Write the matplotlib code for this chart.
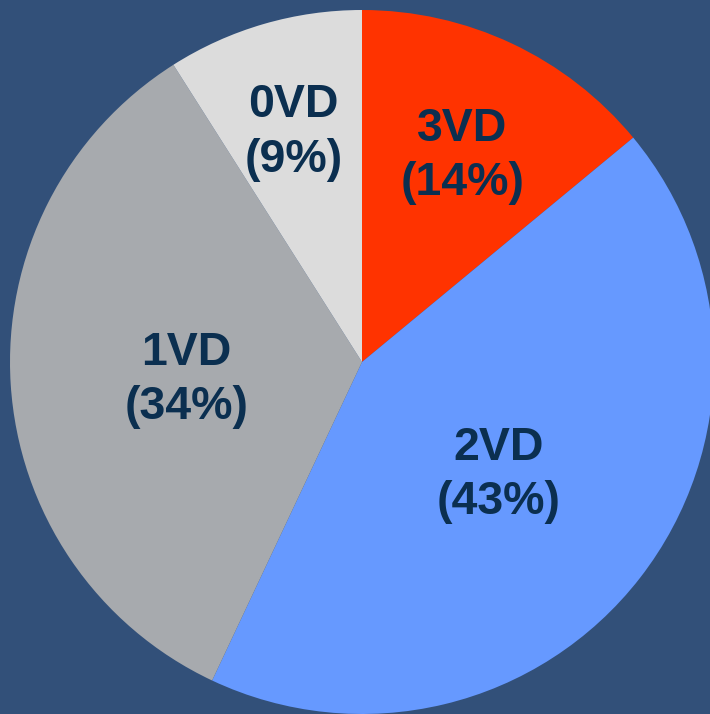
import numpy as np
import matplotlib
matplotlib.use('Agg')
import matplotlib.pyplot as plt

# Share of patients by number of diseased vessels
labels = ['3VD', '2VD', '1VD', '0VD']
shares = [14, 43, 34, 9]
colors = ['#FF3300', '#6699FF', '#A7AAAE', '#DCDCDC']
label_radius = [0.67, 0.49, 0.50, 0.70]

BG = '#325079'
TEXT = '#0B2F50'

fig = plt.figure(figsize=(7.10, 7.14), dpi=100, facecolor=BG)
ax = fig.add_axes([10 / 710, 0, 704 / 710, 704 / 714])
ax.set_facecolor(BG)

wedges, _ = ax.pie(shares, colors=colors, startangle=90, counterclock=False,
                   radius=1.0, wedgeprops={'linewidth': 0})

for w, lab, val, r in zip(wedges, labels, shares, label_radius):
    ang = np.deg2rad((w.theta1 + w.theta2) / 2)
    # small downward nudge, multi-line text sits a bit high otherwise
    ax.text(r * np.cos(ang), r * np.sin(ang) - 0.02, f'{lab}\n({val}%)',
            ha='center', va='center', fontsize=33.5, fontweight='bold',
            family='Liberation Sans', color=TEXT, linespacing=1.3)

ax.set_xlim(-1, 1)
ax.set_ylim(-1, 1)
ax.set_aspect('equal')
ax.axis('off')

fig.savefig('out.png', dpi=100, facecolor=BG)
